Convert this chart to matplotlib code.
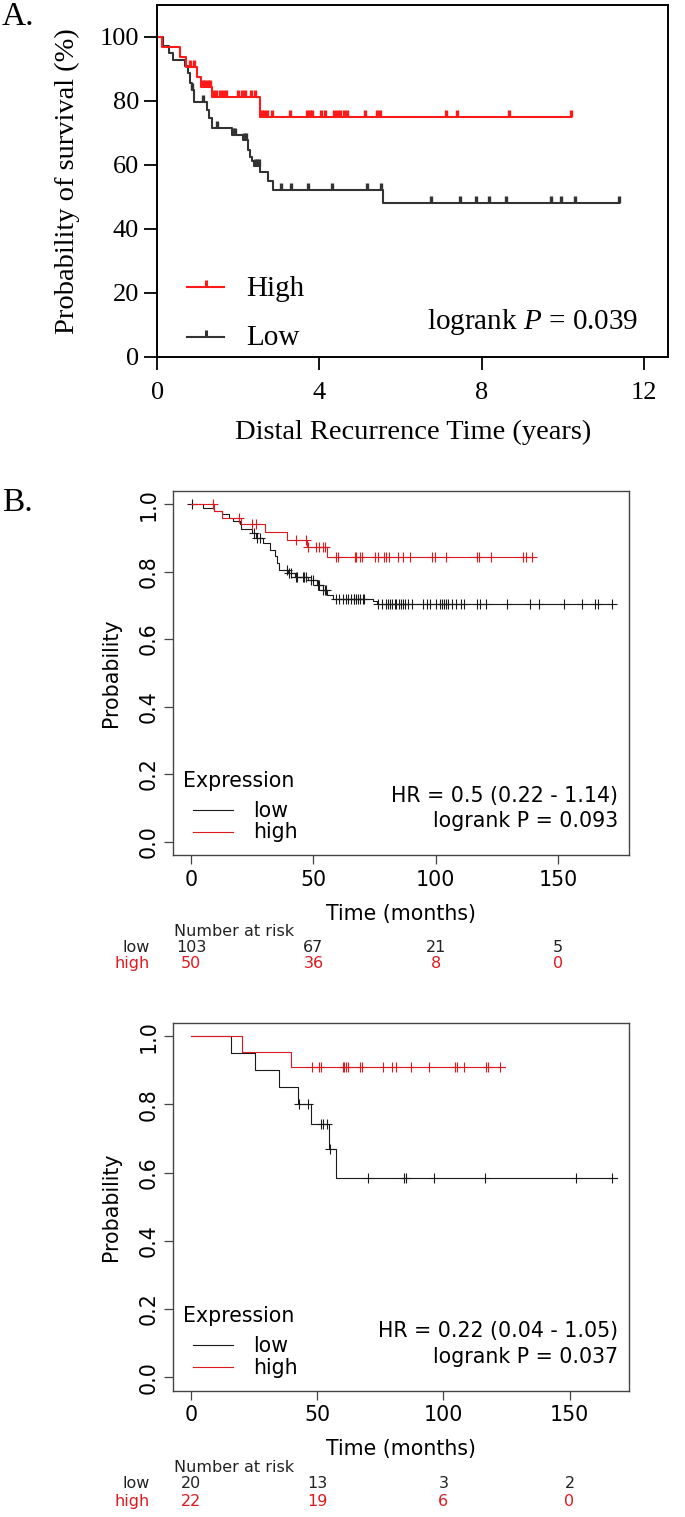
import numpy as np
import matplotlib.pyplot as plt
from matplotlib.transforms import blended_transform_factory

plt.rcParams['mathtext.fontset'] = 'custom'
plt.rcParams['mathtext.rm'] = 'Liberation Serif'
plt.rcParams['mathtext.it'] = 'Liberation Serif:italic'

# ---- panel A: distal recurrence (years, %) ----
a_high_t = [0, 0.11, 0.56, 0.72, 0.97, 1.09, 1.34, 2.54]
a_high_s = [100, 96.9, 93.8, 90.6, 87.5, 84.4, 81.3, 75.0]
a_high_end = 10.21
a_high_cens = [0.81, 0.90, 1.12, 1.18, 1.24, 1.30, 1.38, 1.46, 1.54, 1.62, 1.70,
               2.00, 2.08, 2.17, 2.30, 2.41, 2.58, 2.64, 2.70, 2.82, 3.28, 3.70,
               3.76, 3.82, 4.05, 4.14, 4.35, 4.44, 4.50, 4.60, 4.68, 5.13, 5.43,
               5.50, 7.13, 7.39, 8.67, 10.21]
a_low_t = [0, 0.15, 0.30, 0.38, 0.68, 0.77, 0.81, 0.85, 0.91, 1.22, 1.28, 1.34,
           1.84, 2.12, 2.25, 2.29, 2.33, 2.39, 2.54, 2.74, 2.86, 5.57]
a_low_s = [100, 97.1, 95.0, 92.9, 90.8, 88.7, 85.6, 83.5, 79.8, 77.2, 74.6, 71.5,
           69.4, 67.8, 64.7, 62.6, 61.1, 59.5, 57.9, 54.8, 52.0, 48.0]
a_low_end = 11.38
a_low_cens = [0.85, 1.14, 1.47, 1.86, 1.92, 2.15, 2.20, 2.42, 2.47, 2.52, 3.05,
              3.29, 3.73, 4.30, 5.18, 5.53, 6.76, 7.47, 7.87, 8.19, 8.61, 9.72,
              9.96, 10.31, 11.38]

# ---- panel B top (months, probability) ----
b1_low_t = [0, 5.0, 9.5, 12.5, 15.6, 17.2, 19.9, 20.6, 25.1, 26.7, 29.4, 32.1,
            34.3, 35.0, 35.8, 39.7, 42.4, 47.9, 51.3, 54.0, 55.4, 58.1, 74.4, 76.0]
b1_low_s = [1.0, 0.99, 0.98, 0.97, 0.96, 0.95, 0.94, 0.925, 0.915, 0.90, 0.885,
            0.865, 0.845, 0.825, 0.805, 0.795, 0.785, 0.775, 0.76, 0.745, 0.73,
            0.72, 0.712, 0.703]
b1_low_end = 172.2
b1_low_cens = [0.4, 25.8, 27.0, 28.0, 39.4, 40.1, 40.9, 42.8, 43.5, 45.7, 46.3,
               47.1, 48.9, 50.0, 51.8, 52.5, 54.0, 54.7, 55.0, 59.1, 60.6, 62.0,
               63.2, 64.2, 65.2, 66.4, 66.8, 67.6, 68.2, 69.0, 70.1, 70.8, 76.6,
               78.1, 79.5, 80.3, 81.3, 82.2, 83.2, 83.9, 85.1, 85.8, 86.5, 87.6,
               88.6, 90.5, 94.9, 96.3, 97.8, 100.0, 101.7, 102.6, 103.3, 104.0,
               105.1, 106.8, 108.4, 110.2, 111.6, 116.8, 118.2, 120.4, 129.2,
               138.6, 142.3, 152.5, 159.8, 164.9, 166.4, 172.2]
b1_high_t = [0, 9.5, 12.6, 20.3, 30.2, 39.2, 47.3, 55.4]
b1_high_s = [1.0, 0.98, 0.96, 0.94, 0.918, 0.895, 0.873, 0.843]
b1_high_end = 140.5
b1_high_cens = [9.0, 19.7, 24.8, 26.5, 43.0, 47.1, 47.7, 51.1, 52.5, 54.0, 54.7,
                59.4, 60.2, 67.1, 67.5, 69.0, 70.0, 75.1, 76.6, 78.8, 79.5, 80.7,
                84.6, 86.8, 89.4, 98.5, 99.6, 104.3, 116.7, 117.7, 122.5, 135.7,
                136.7, 139.3]
b1_risk_low = [103, 67, 21, 5]
b1_risk_high = [50, 36, 8, 0]
b1_hr = 'HR = 0.5 (0.22 - 1.14)'
b1_p = 'logrank P = 0.093'

# ---- panel B bottom ----
b2_low_t = [0, 15.8, 25.5, 34.7, 42.5, 47.4, 54.5, 57.6]
b2_low_s = [1.0, 0.95, 0.90, 0.85, 0.80, 0.743, 0.669, 0.585]
b2_low_end = 168.7
b2_low_cens = [42.9, 46.2, 51.4, 52.4, 53.8, 55.2, 70.0, 84.3, 85.3, 96.3, 116.5,
               152.7, 166.7]
b2_high_t = [0, 20.2, 39.6]
b2_high_s = [1.0, 0.955, 0.909]
b2_high_end = 124.4
b2_high_cens = [47.8, 50.8, 51.5, 60.1, 60.6, 61.3, 62.0, 66.9, 67.6, 75.9, 79.5,
                81.2, 87.0, 94.4, 104.6, 105.3, 108.2, 116.9, 117.8, 122.4]
b2_risk_low = [20, 13, 3, 2]
b2_risk_high = [22, 19, 6, 0]
b2_hr = 'HR = 0.22 (0.04 - 1.05)'
b2_p = 'logrank P = 0.037'

risk_times = [0, 50, 100, 150]

A_RED = '#ff1a1a'
A_BLK = '#333333'
B_RED = '#dc1a1f'
B_BLK = '#1a1a1a'
SERIF = 'Liberation Serif'
tick_up = [(0, 0), (0, 1)]


def step_at(t, s, x):
    idx = np.searchsorted(t, x, side='right') - 1
    return np.asarray(s)[idx]


def km(ax, t, s, end, cens, color, lw, marker, ms, mew):
    ax.step(list(t) + [end], list(s) + [s[-1]], where='post', color=color, lw=lw)
    ax.plot(cens, step_at(t, s, cens), ls='none', marker=marker, ms=ms,
            mew=mew, mec=color, color=color)


fig = plt.figure(figsize=(6.85, 15.17), dpi=100)

# ================= panel A =================
ax = fig.add_axes([0.2296, 0.76486, 0.7456, 0.23184])
km(ax, a_low_t, a_low_s, a_low_end, a_low_cens, A_BLK, 1.5, tick_up, 10, 2.4)
km(ax, a_high_t, a_high_s, a_high_end, a_high_cens, A_RED, 1.5, tick_up, 10, 2.4)
ax.set_xlim(0, 12.6)
ax.set_ylim(0, 110)
ax.set_xticks([0, 4, 8, 12])
ax.set_yticks([0, 20, 40, 60, 80, 100])
for sp in ax.spines.values():
    sp.set_linewidth(1.4)
ax.tick_params(direction='out', length=9.5, width=1.3)
ax.tick_params(axis='x', pad=9)
ax.tick_params(axis='y', pad=3.6)
for lab in ax.get_xticklabels() + ax.get_yticklabels():
    lab.set_fontfamily(SERIF)
    lab.set_fontsize(19)
ax.set_xlabel('Distal Recurrence Time (years)', fontfamily=SERIF, fontsize=20.5,
              labelpad=11)
ax.set_ylabel('Probability of survival (%)', fontfamily=SERIF, fontsize=20.5)
ax.yaxis.set_label_coords(-0.151, 0.5)

for y_line, y_txt, col, lab in [(0.197, 0.173, A_RED, 'High'),
                                (0.057, 0.033, A_BLK, 'Low')]:
    ax.plot([0.058, 0.131], [y_line, y_line], transform=ax.transAxes,
            color=col, lw=1.5)
    ax.plot([0.0945], [y_line], transform=ax.transAxes, marker=tick_up, ms=10,
            mew=2.2, mec=col, ls='none')
    ax.text(0.174, y_txt, lab, transform=ax.transAxes, fontfamily=SERIF,
            fontsize=21, va='baseline')
ax.text(0.942, 0.08, r'logrank $P$ = 0.039', transform=ax.transAxes,
        fontfamily=SERIF, fontsize=21, ha='right', va='baseline')

fig.text(0.003, 1 - 25 / 1517, 'A.', fontfamily=SERIF, fontsize=24, va='baseline')
fig.text(0.003, 1 - 511 / 1517, 'B.', fontfamily=SERIF, fontsize=24, va='baseline')


# ================= panel B =================
def panel_b(rect, xlim, low, high, risk_low, risk_high, hr, p, risk_y):
    ax = fig.add_axes(rect)
    km(ax, *low, B_BLK, 0.8, '+', 7.5, 0.8)
    km(ax, *high, B_RED, 0.8, '+', 7.5, 0.8)
    ax.set_xlim(*xlim)
    ax.set_ylim(-0.04, 1.04)
    ax.set_xticks([0, 50, 100, 150])
    ax.set_yticks([0.0, 0.2, 0.4, 0.6, 0.8, 1.0])
    ax.set_yticklabels(['0.0', '0.2', '0.4', '0.6', '0.8', '1.0'], rotation=90,
                       va='center')
    for sp in ax.spines.values():
        sp.set_linewidth(1.0)
        sp.set_color('#444444')
    ax.tick_params(direction='out', length=6.2, width=0.9, labelsize=14.8,
                   color='#444444')
    ax.tick_params(axis='x', pad=4.4)
    ax.tick_params(axis='y', pad=4.2)
    ax.set_xlabel('Time (months)', fontsize=14.8, labelpad=10)
    ax.set_ylabel('Probability', fontsize=14.8)
    ax.yaxis.set_label_coords(-0.114, 0.5)

    ax.text(0.021, 0.1875, 'Expression', transform=ax.transAxes, fontsize=14.8,
            va='baseline')
    ax.plot([0.043, 0.131], [0.1235, 0.1235], transform=ax.transAxes,
            color=B_BLK, lw=0.8)
    ax.plot([0.043, 0.131], [0.064, 0.064], transform=ax.transAxes,
            color=B_RED, lw=0.8)
    ax.text(0.175, 0.105, 'low', transform=ax.transAxes, fontsize=14.8,
            va='baseline')
    ax.text(0.175, 0.046, 'high', transform=ax.transAxes, fontsize=14.8,
            va='baseline')
    ax.text(0.9765, 0.1446, hr, transform=ax.transAxes, fontsize=14.8,
            ha='right', va='baseline')
    ax.text(0.9765, 0.076, p, transform=ax.transAxes, fontsize=14.8,
            ha='right', va='baseline')

    tr = blended_transform_factory(ax.transData, ax.transAxes)
    ax.text(0.002, risk_y[0], 'Number at risk', transform=ax.transAxes,
            fontsize=11.5, va='center', color='#222222')
    ax.text(-0.051, risk_y[1], 'low', transform=ax.transAxes, fontsize=11.5,
            va='center', ha='right', color='#222222')
    ax.text(-0.051, risk_y[2], 'high', transform=ax.transAxes, fontsize=11.5,
            va='center', ha='right', color=B_RED)
    for t, nl, nh in zip(risk_times, risk_low, risk_high):
        ax.text(t, risk_y[1], str(nl), transform=tr, fontsize=11.5,
                ha='center', va='center', color='#222222')
        ax.text(t, risk_y[2], str(nh), transform=tr, fontsize=11.5,
                ha='center', va='center', color=B_RED)
    return ax


panel_b([0.2528, 0.43639, 0.6648, 0.24015], (-7.3, 178.8),
        (b1_low_t, b1_low_s, b1_low_end, b1_low_cens),
        (b1_high_t, b1_high_s, b1_high_end, b1_high_cens),
        b1_risk_low, b1_risk_high, b1_hr, b1_p, (-0.2105, -0.255, -0.299))
panel_b([0.2528, 0.08326, 0.6648, 0.24258], (-7.1, 173.4),
        (b2_low_t, b2_low_s, b2_low_end, b2_low_cens),
        (b2_high_t, b2_high_s, b2_high_end, b2_high_cens),
        b2_risk_low, b2_risk_high, b2_hr, b2_p, (-0.208, -0.2535, -0.3016))

fig.savefig('out.png', dpi=100)
